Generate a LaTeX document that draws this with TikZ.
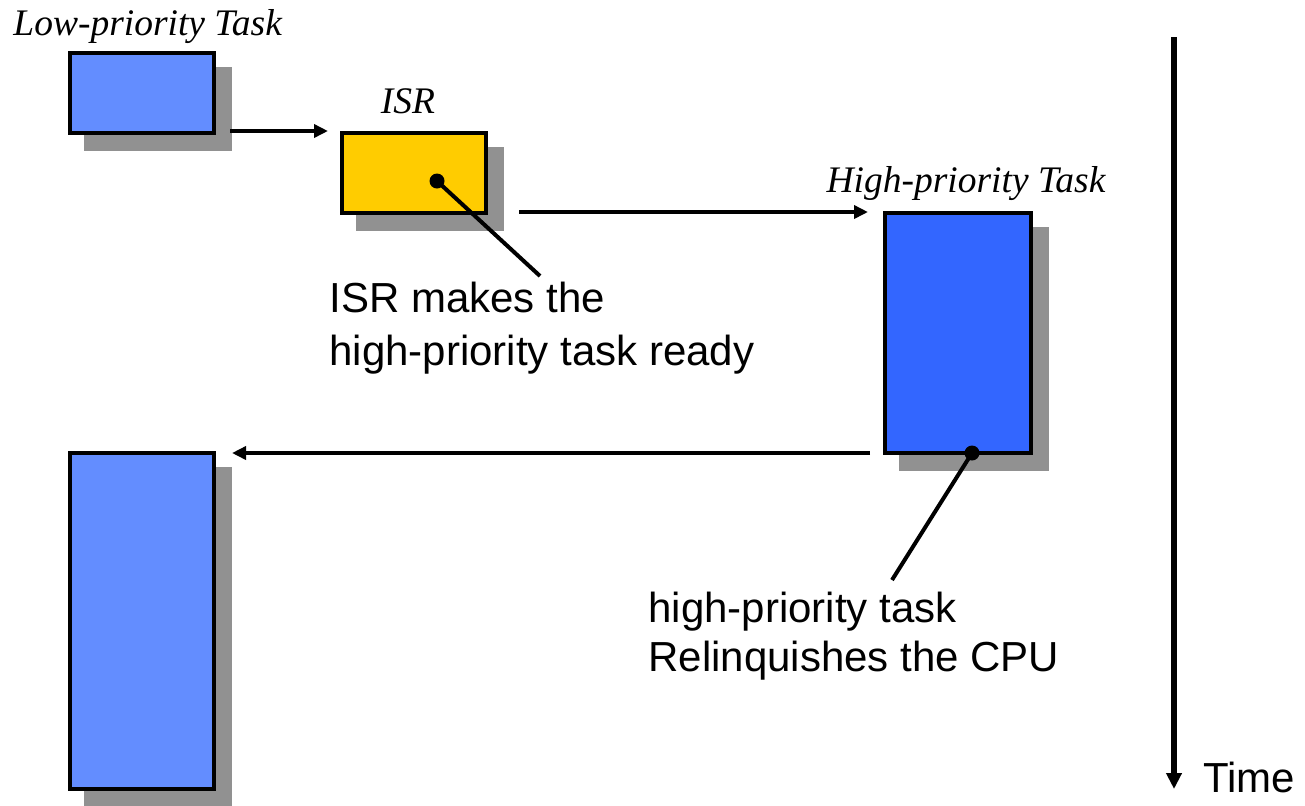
\documentclass[tikz,border=0pt]{standalone}
\usepackage{fontspec}
\setmainfont{Liberation Serif}
\setsansfont{Liberation Sans}
\usetikzlibrary{arrows.meta,shadows,calc}

\definecolor{lowblue}{RGB}{99,141,255}
\definecolor{highblue}{RGB}{51,102,255}
\definecolor{isryellow}{RGB}{255,204,0}
\definecolor{shadowgray}{RGB}{145,145,145}

\begin{document}
\begin{tikzpicture}[
  x=0.5pt, y=-0.5pt,
  taskbox/.style={draw=black, line width=2pt, inner sep=0pt, outer sep=0pt,
    drop shadow={shadow xshift=8pt, shadow yshift=-8pt, fill=shadowgray,
      draw=shadowgray, line width=2pt, opacity=1}},
  flow/.style={line width=2.3pt, -{Triangle[length=7pt,width=6.5pt]}},
  callout/.style={line width=2pt},
  pin/.style={circle, fill=black, inner sep=0pt, minimum size=7.5pt},
  tasklabel/.style={font=\itshape\fontsize{18.75pt}{22pt}\selectfont, inner sep=0pt},
  note/.style={font=\sffamily\fontsize{21pt}{26.5pt}\selectfont, align=left, inner sep=0pt},
]
\useasboundingbox (0,0) rectangle (1305,805);

% task execution blocks
\node[taskbox, fill=lowblue, minimum width=72pt, minimum height=40pt] (low) at (142,93) {};
\node[taskbox, fill=isryellow, minimum width=72pt, minimum height=40pt] (isr) at (414,173) {};
\node[taskbox, fill=highblue, minimum width=73pt, minimum height=120pt] (high) at (958,333) {};
\node[taskbox, fill=lowblue, minimum width=72pt, minimum height=168pt] (resume) at (142,621) {};

% block titles
\node[tasklabel, anchor=base west] (lowlbl) at (13,35) {Low-priority Task};
\node[tasklabel, anchor=base] (isrlbl) at (408,113) {ISR};
\node[tasklabel, anchor=base] (highlbl) at (966,192) {High-priority Task};

% context switches
\draw[flow] ([shift={(8pt,1pt)}]low.south east) -- ([shift={(-7pt,1pt)}]isr.north west);
\draw[flow] ([shift={(16.5pt,0.5pt)}]isr.south east) -- ([shift={(-8.5pt,0.5pt)}]high.north west);
\draw[flow] ([xshift=-7.5pt]high.south west) -- ([xshift=9pt]resume.north east);

% explanatory notes
\node[note, anchor=north west] (note1) at (329,282) {ISR makes the\\high-priority task ready};
\node[note, anchor=north west, font=\sffamily\fontsize{21pt}{24.5pt}\selectfont] (note2) at (648,592) {high-priority task\\Relinquishes the CPU};

\node[pin] (isrpin) at ([shift={(11.5pt,-4pt)}]isr.center) {};
\coordinate (isrend) at (540,276);
\draw[callout] (isrpin.center) -- (isrend);

\node[pin] (highpin) at ([xshift=7pt]high.south) {};
\coordinate (highend) at (892,580);
\draw[callout] (highpin.center) -- (highend);

% time axis
\coordinate (tstart) at (1174,37);
\coordinate (tend) at (1174,789);
\draw[line width=2.6pt, -{Triangle[length=8pt,width=7.5pt]}] (tstart) -- (tend);
\node[font=\sffamily\fontsize{21pt}{24pt}\selectfont, anchor=base west, inner sep=0pt] (time) at (1203,792) {Time};
\end{tikzpicture}
\end{document}
